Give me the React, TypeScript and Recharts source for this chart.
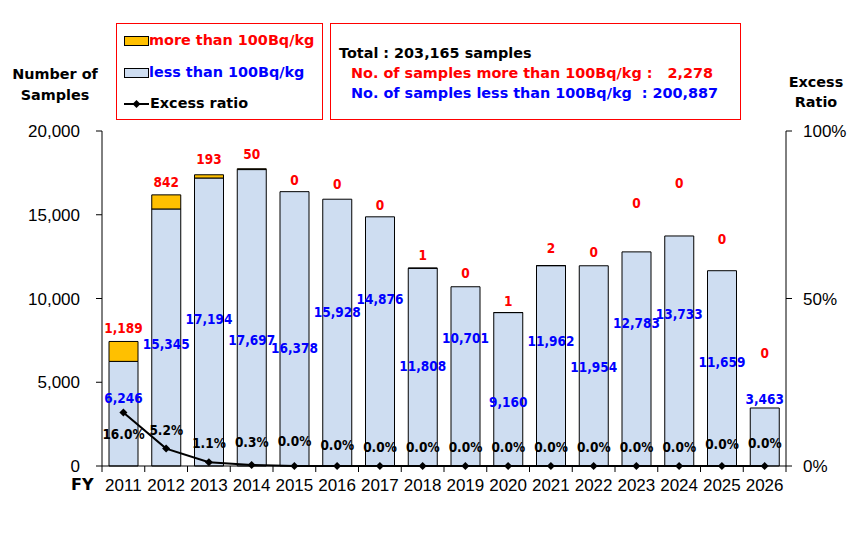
import React from 'react';
import {
  ComposedChart,
  Bar,
  Line,
  XAxis,
  YAxis,
  LabelList,
} from 'recharts';

const YEARS = ['2011', '2012', '2013', '2014', '2015', '2016', '2017', '2018', '2019', '2020', '2021', '2022', '2023', '2024', '2025', '2026'];
const MORE = [1189, 842, 193, 50, 0, 0, 0, 1, 0, 1, 2, 0, 0, 0, 0, 0];
const LESS = [6246, 15345, 17194, 17697, 16378, 15928, 14876, 11808, 10701, 9160, 11962, 11954, 12783, 13733, 11659, 3463];
const RATIO = [16.0, 5.2, 1.1, 0.3, 0.0, 0.0, 0.0, 0.0, 0.0, 0.0, 0.0, 0.0, 0.0, 0.0, 0.0, 0.0];

const LEFT_TICKS = [0, 5000, 10000, 15000, 20000];
const RIGHT_TICKS = [0, 50, 100];

// where each data label sits (left-axis units / right-axis percent)
const MORE_LABEL_AT = [8240, 16950, 18330, 18630, 17080, 16840, 15580, 12600, 11520, 9850, 13020, 12780, 15700, 16900, 13550, 6750];
const LESS_LABEL_AT = [4060, 7290, 8780, 7520, 7050, 9200, 9970, 5970, 7640, 3820, 7460, 5910, 8540, 9080, 6210, 4000];
const RATIO_LABEL_AT = [9.6, 10.8, 6.9, 7.2, 7.5, 6.3, 5.7, 5.7, 5.7, 5.7, 5.7, 5.7, 5.7, 5.7, 6.6, 6.9];

const LEFT_MAX = 20000;
const RIGHT_MAX = 100;

const data = YEARS.map((year, i) => ({
  year,
  less: LESS[i],
  more: MORE[i],
  ratio: RATIO[i],
}));

const BOLD = '"DejaVu Sans", Verdana, sans-serif';
const LABEL_FONT = '"DejaVu Sans Condensed", "DejaVu Sans", sans-serif';
const THIN = '"Liberation Sans", Arial, sans-serif';
const RED = '#FF0000';
const BLUE = '#0000FF';
const LIGHT_BLUE = '#CEDDF1';
const ORANGE = '#FFC000';

const fmt = (v: number) => v.toLocaleString('en-US');

// place a label at a value position using the "less" bar's own scale
function makeLabel(anchors: number[], color: string, text: (v: number) => string, toLeft = 1) {
  return (props: any) => {
    const { x, y, width, height, index, value } = props;
    const ppu = height / LESS[index];
    const base = y + height;
    const ly = base - anchors[index] * toLeft * ppu;
    return (
      <text
        x={x + width / 2}
        y={ly}
        textAnchor="middle"
        dominantBaseline="central"
        fill={color}
        fontFamily={LABEL_FONT}
        fontWeight="bold"
        fontSize={13.5}
      >
        {text(value)}
      </text>
    );
  };
}

function XTick(props: any) {
  const { x, y, payload, index } = props;
  const half = 684 / YEARS.length / 2;
  return (
    <g>
      <line x1={x - half} y1={y} x2={x - half} y2={y + 6} stroke="#000" />
      {index === YEARS.length - 1 && (
        <line x1={x + half} y1={y} x2={x + half} y2={y + 6} stroke="#000" />
      )}
      <text x={x} y={y + 19} textAnchor="middle" dominantBaseline="central" fontFamily={THIN} fontSize={17} fill="#000">
        {payload.value}
      </text>
    </g>
  );
}

function Diamond(props: any) {
  const { cx, cy } = props;
  if (cx == null || cy == null) return null;
  const r = 4;
  return <path d={`M${cx},${cy - r}L${cx + r},${cy}L${cx},${cy + r}L${cx - r},${cy}Z`} fill="#000" />;
}

const box: React.CSSProperties = {
  position: 'absolute',
  border: '1px solid #FF0000',
  boxSizing: 'border-box',
  background: '#fff',
};

const txt: React.CSSProperties = {
  position: 'absolute',
  fontFamily: BOLD,
  fontWeight: 'bold',
  fontSize: 14.4,
  lineHeight: '18px',
  whiteSpace: 'pre',
};

export default function App() {
  return (
    <div style={{ position: 'absolute', left: 0, top: 0, width: 857, height: 537, background: '#fff' }}>
      <ComposedChart
        width={857}
        height={537}
        data={data}
        margin={{ top: 131, right: 11, bottom: 41, left: 42 }}
      >
        <XAxis
          dataKey="year"
          height={30}
          interval={0}
          axisLine={{ stroke: '#000' }}
          tickLine={false}
          tickSize={0}
          tickMargin={0}
          tick={<XTick />}
        />
        <YAxis
          yAxisId="left"
          width={60}
          domain={[0, LEFT_MAX]}
          ticks={LEFT_TICKS}
          interval={0}
          tickFormatter={fmt}
          axisLine={{ stroke: '#000' }}
          tickLine={{ stroke: '#000' }}
          tickSize={6}
          tickMargin={16}
          tick={{ fill: '#000', fontFamily: THIN, fontSize: 17 }}
        />
        <YAxis
          yAxisId="right"
          orientation="right"
          width={60}
          domain={[0, RIGHT_MAX]}
          ticks={RIGHT_TICKS}
          interval={0}
          tickFormatter={(v: number) => `${v}%`}
          axisLine={{ stroke: '#000' }}
          tickLine={{ stroke: '#000' }}
          tickSize={6}
          tickMargin={11}
          tick={{ fill: '#000', fontFamily: THIN, fontSize: 17, textAnchor: 'start' }}
        />
        <Bar yAxisId="left" dataKey="less" stackId="a" barSize={29} fill={LIGHT_BLUE} stroke="#000" strokeWidth={1} isAnimationActive={false}>
          <LabelList dataKey="less" content={makeLabel(LESS_LABEL_AT, BLUE, fmt)} />
          <LabelList dataKey="more" content={makeLabel(MORE_LABEL_AT, RED, fmt)} />
          <LabelList
            dataKey="ratio"
            content={makeLabel(RATIO_LABEL_AT, '#000', (v) => `${v.toFixed(1)}%`, LEFT_MAX / RIGHT_MAX)}
          />
        </Bar>
        <Bar yAxisId="left" dataKey="more" stackId="a" barSize={29} fill={ORANGE} stroke="#000" strokeWidth={1} isAnimationActive={false} />
        <Line
          yAxisId="right"
          dataKey="ratio"
          stroke="#000"
          strokeWidth={2}
          dot={<Diamond />}
          activeDot={false}
          isAnimationActive={false}
        />
      </ComposedChart>

      {/* axis titles */}
      <div style={{ ...txt, left: 0, width: 110, top: 64, textAlign: 'center', lineHeight: '21px' }}>
        {'Number of\nSamples'}
      </div>
      <div style={{ ...txt, left: 766, width: 100, top: 72, textAlign: 'center', lineHeight: '20px' }}>
        {'Excess\nRatio'}
      </div>
      <div style={{ ...txt, left: 71, top: 479, fontSize: 16, lineHeight: '12px' }}>FY</div>

      {/* legend */}
      <div style={{ ...box, left: 116, top: 23, width: 207, height: 97 }}>
        <div style={{ position: 'absolute', left: 7, top: 12, width: 23, height: 8, background: ORANGE, border: '1px solid #000' }} />
        <div style={{ ...txt, left: 32, top: 7, color: RED }}>more than 100Bq/kg</div>
        <div style={{ position: 'absolute', left: 7, top: 44, width: 23, height: 8, background: LIGHT_BLUE, border: '1px solid #000' }} />
        <div style={{ ...txt, left: 32, top: 39, color: BLUE }}>less than 100Bq/kg</div>
        <svg style={{ position: 'absolute', left: 6, top: 74 }} width={27} height={12}>
          <line x1={1} y1={6} x2={26} y2={6} stroke="#000" strokeWidth={2} />
          <path d="M13.5,2L17.5,6L13.5,10L9.5,6Z" fill="#000" />
        </svg>
        <div style={{ ...txt, left: 33, top: 70, color: '#000' }}>Excess ratio</div>
      </div>

      {/* totals */}
      <div style={{ ...box, left: 330, top: 23, width: 411, height: 97 }}>
        <div style={{ ...txt, left: 8, top: 20, color: '#000' }}>Total : 203,165 samples</div>
        <div style={{ ...txt, left: 20, top: 40, color: RED }}>{'No. of samples more than 100Bq/kg :   2,278'}</div>
        <div style={{ ...txt, left: 20, top: 60, color: BLUE }}>{'No. of samples less than 100Bq/kg  : 200,887'}</div>
      </div>
    </div>
  );
}
